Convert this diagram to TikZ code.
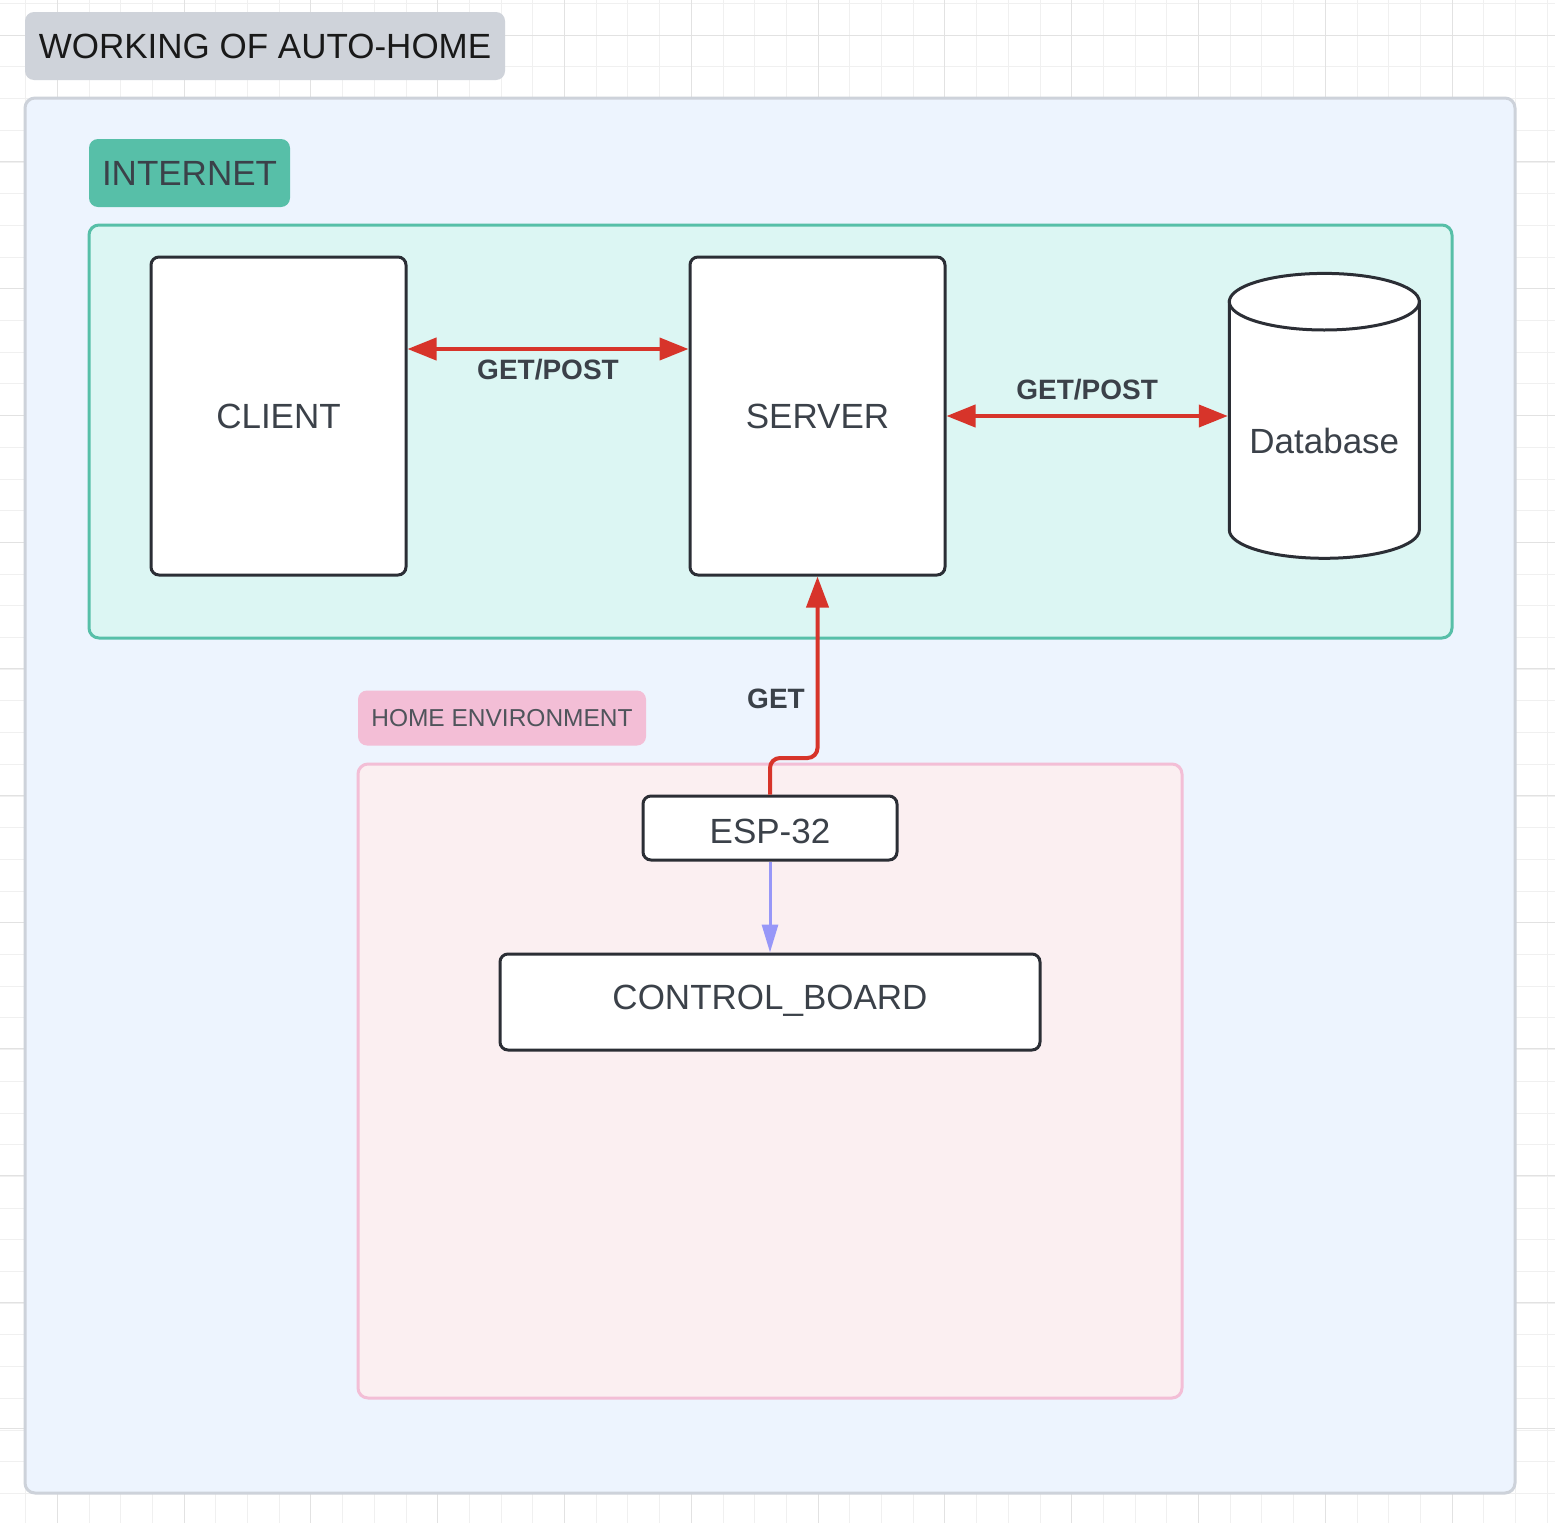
\documentclass[tikz,border=0pt]{standalone}
\usepackage{fontspec}
\setmainfont{Liberation Sans}
\usetikzlibrary{arrows.meta}
\definecolor{gridminor}{HTML}{F0F0F0}
\definecolor{gridmajor}{HTML}{E2E2E2}
\definecolor{outerfill}{HTML}{EDF4FE}
\definecolor{outerline}{HTML}{CDD2DA}
\definecolor{titlefill}{HTML}{CFD3DA}
\definecolor{teal}{HTML}{57BFA8}
\definecolor{tealfill}{HTML}{DCF6F3}
\definecolor{pinkline}{HTML}{F3BED6}
\definecolor{pinkfill}{HTML}{FBEFF1}
\definecolor{boxline}{HTML}{2B2E35}
\definecolor{txt}{HTML}{3B4149}
\definecolor{arrowred}{HTML}{D7342A}
\definecolor{arrowpurple}{HTML}{9797F8}
\begin{document}
\begin{tikzpicture}[x=1pt,y=-1pt,
  box/.style={draw=boxline, line width=3pt, fill=white, rounded corners=8pt, inner sep=0pt,
    font=\fontsize{35}{42}\selectfont, text=txt, text height=25pt, text depth=0pt},
  elabel/.style={inner sep=0pt, font=\fontsize{28}{34}\selectfont\bfseries, text=txt,
    text height=20pt, text depth=0pt},
  redarrow/.style={draw=arrowred, line width=4pt, arrowred},
]
\useasboundingbox (0,0) rectangle (1555,1523);
\fill[white] (0,0) rectangle (1555,1523);
% grid
\foreach \k in {0,...,48}{
  \pgfmathsetmacro{\gx}{25.6+31.7*\k}
  \draw[gridminor, line width=1pt] (\gx,0) -- (\gx,1523);
}
\foreach \k in {0,...,47}{
  \pgfmathsetmacro{\gy}{3.5+31.7*\k}
  \draw[gridminor, line width=1pt] (0,\gy) -- (1555,\gy);
}
\foreach \k in {0,...,11}{
  \pgfmathsetmacro{\gx}{57.3+126.8*\k}
  \pgfmathsetmacro{\gy}{35.2+126.7*\k}
  \draw[gridmajor, line width=1pt] (\gx,0) -- (\gx,1523);
  \draw[gridmajor, line width=1pt] (0,\gy) -- (1555,\gy);
}
% containers
\node[draw=outerline, fill=outerfill, line width=3pt, rounded corners=10pt, inner sep=0pt,
  minimum width=1490pt, minimum height=1395pt] (outer) at (770,795.5) {};
\node[fill=titlefill, rounded corners=9pt, inner sep=0pt, minimum width=480pt, minimum height=68pt,
  font=\fontsize{35}{42}\selectfont, text=black!90, text height=25pt, text depth=0pt] (title) at (265,46) {WORKING OF AUTO-HOME};
\node[fill=teal, rounded corners=9pt, inner sep=0pt, minimum width=201pt, minimum height=68pt,
  font=\fontsize{35}{42}\selectfont, text=txt, text height=25pt, text depth=0pt] (inetlabel) at (189.5,173) {INTERNET};
\node[draw=teal, fill=tealfill, line width=3pt, rounded corners=10pt, inner sep=0pt,
  minimum width=1363pt, minimum height=413pt] (internet) at (770.5,431.5) {};
\node[fill=pinkline, rounded corners=9pt, inner sep=0pt, minimum width=288pt, minimum height=55pt,
  font=\fontsize{24.5}{30}\selectfont, text=txt!90, text height=17.5pt, text depth=0pt] (homelabel) at (502,718) {HOME ENVIRONMENT};
\node[draw=pinkline, fill=pinkfill, line width=3pt, rounded corners=10pt, inner sep=0pt,
  minimum width=824pt, minimum height=634pt] (home) at (770,1081) {};
% boxes
\node[box, minimum width=255pt, minimum height=318pt] (client) at (278.5,416) {CLIENT};
\node[box, minimum width=255pt, minimum height=318pt] (server) at (817.5,416) {SERVER};
\node[box, minimum width=254pt, minimum height=64pt, text height=31pt] (esp) at (770,828) {ESP-32};
\node[box, minimum width=540pt, minimum height=96pt, text depth=10pt] (cb) at (770,1002) {CONTROL\_BOARD};
% database cylinder
\draw[draw=boxline, line width=3pt, fill=white] (1229.3,301.7) -- (1229.3,530)
  arc[start angle=180, end angle=360, x radius=95pt, y radius=28.3pt] -- (1419.3,301.7) -- cycle;
\draw[draw=boxline, line width=3pt, fill=white] (1324.3,301.7) ellipse [x radius=95pt, y radius=28.3pt];
\node[inner sep=0pt, outer sep=1.5pt, minimum width=190pt, minimum height=285pt] (db) at (1324.3,416) {};
\node[inner sep=0pt, font=\fontsize{35}{42}\selectfont, text=txt, text height=25pt, text depth=0pt] (dbtext) at (1324.3,441) {Database};
% connectors
\draw[redarrow, {Triangle[length=29pt,width=22pt]}-{Triangle[length=29pt,width=22pt]}]
  ([yshift=67pt]client.east) -- ([yshift=67pt]server.west)
  node[midway, yshift=-20pt, elabel] (lbl1) {GET/POST};
\draw[redarrow, {Triangle[length=29pt,width=22pt]}-{Triangle[length=29pt,width=22pt]}]
  (server.east) -- (db.west)
  node[midway, yshift=27pt, elabel] (lbl2) {GET/POST};
\coordinate (bend) at (770,758);
\draw[redarrow, rounded corners=10pt, -{Triangle[length=31pt,width=22pt]}]
  (esp.north) -- (bend) -| (server.south);
\node[elabel] (lbl3) at (776,698) {GET};
\draw[draw=arrowpurple, line width=3pt, -{Triangle[length=28pt,width=16pt]}, arrowpurple]
  (esp.south) -- (cb.north);
\end{tikzpicture}
\end{document}
